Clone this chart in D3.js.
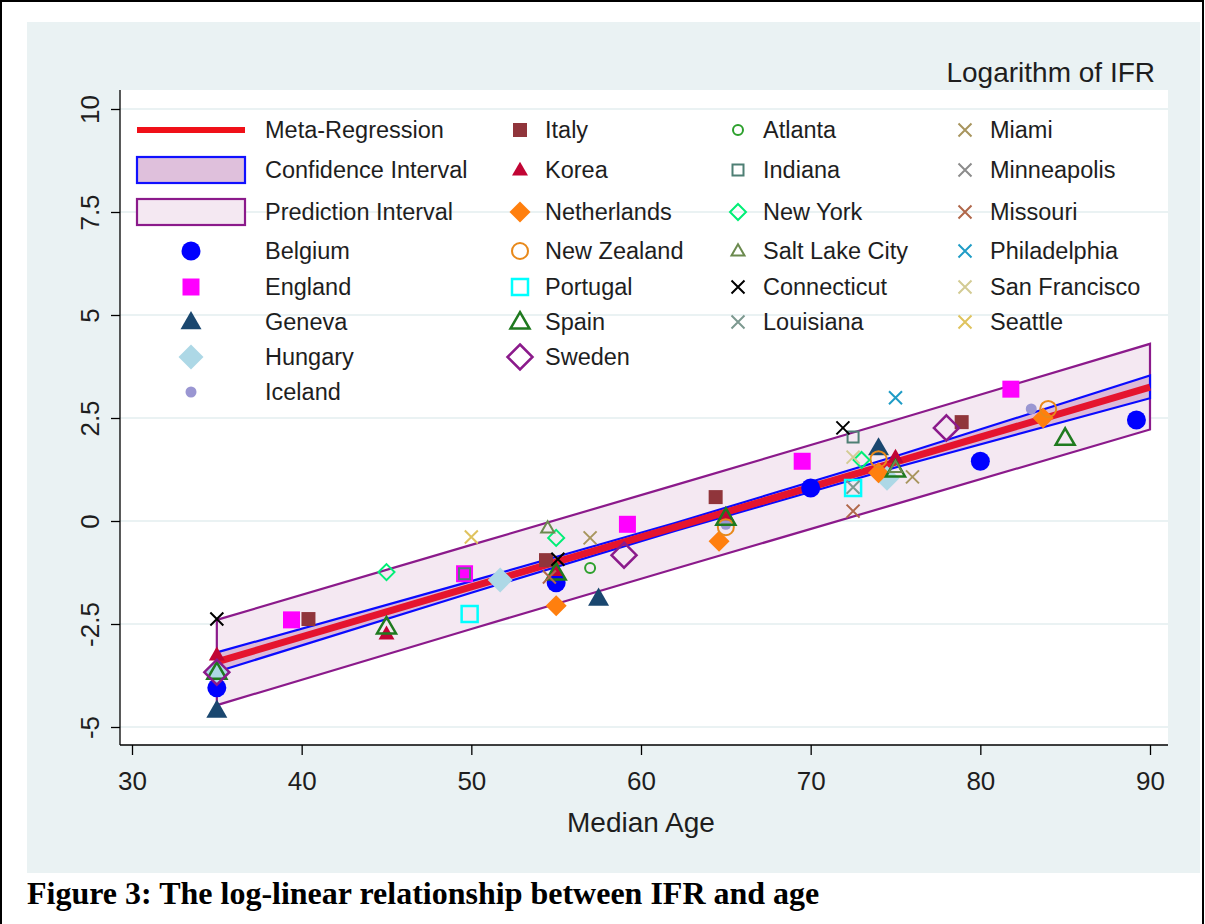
<!DOCTYPE html>
<html><head><meta charset="utf-8">
<script src="https://cdn.jsdelivr.net/npm/d3@7"></script>
<style>
html,body{margin:0;padding:0;background:#fff;}
svg{display:block;}
text{font-family:"Liberation Sans",Arial,sans-serif;fill:#1e1e1e;}
</style></head>
<body>
<svg id="chart" width="1205" height="924"></svg>
<script>
// ---------- data ----------
const xTicks = [30, 40, 50, 60, 70, 80, 90];
const yTicks = [-5, -2.5, 0, 2.5, 5, 7.5, 10];
const yTickLabels = ["-5", "-2.5", "0", "2.5", "5", "7.5", "10"];

const bandAge  = [35, 50, 62, 75, 90];
const fitValue = [-3.42, -1.60, -0.15, 1.43, 3.25];
const ciLower  = [-3.66, -1.74, -0.24, 1.30, 2.98];
const ciUpper  = [-3.19, -1.46, -0.05, 1.57, 3.53];
const piLower  = [-4.47, -2.62, -1.16, 0.41, 2.22];
const piUpper  = [-2.40, -0.58, 0.87, 2.45, 4.30];

const belgium      = [[35,-4.05],[55,-1.5],[70,0.8],[80,1.45],[89.2,2.45]];
const england      = [[39.4,-2.4],[49.6,-1.28],[59.2,-0.08],[69.5,1.45],[81.8,3.2]];
const geneva       = [[35,-4.6],[57.5,-1.88],[74,1.77]];
const hungary      = [[35,-3.65],[51.7,-1.43],[74.5,1.04]];
const iceland      = [[65,-0.08],[83,2.72]];
const italy        = [[40.4,-2.38],[54.4,-0.95],[64.4,0.58],[78.9,2.4]];
const korea        = [[35,-3.25],[45,-2.74],[55,-1.2],[65,0.15],[75,1.55]];
const netherlands  = [[55,-2.06],[64.6,-0.49],[74,1.17],[83.7,2.5]];
const newZealand   = [[65,-0.15],[74,1.5],[84,2.72]];
const portugal     = [[49.9,-2.26],[72.5,0.8]];
const spain        = [[35,-3.67],[45,-2.57],[55,-1.26],[65,0.07],[75,1.24],[85,2.01]];
const sweden       = [[35,-3.67],[59,-0.83],[78,2.26]];
const atlanta      = [[57,-1.14]];
const indiana      = [[49.6,-1.28],[72.5,2.04]];
const newYork      = [[45,-1.24],[55,-0.41],[73,1.48]];
const saltLakeCity = [[54.5,-0.17],[75,1.3]];
const connecticut  = [[35,-2.38],[55.1,-0.93],[71.9,2.26]];
const louisiana    = [[72.5,0.82]];
const miami        = [[57,-0.41],[76,1.07]];
const minneapolis  = [];
const missouri     = [[54.6,-1.36],[72.5,0.24]];
const philadelphia = [[75,2.99]];
const sanFrancisco = [[72.5,1.55]];
const seattle      = [[50,-0.39]];

const seriesNames = ["Belgium","England","Geneva","Hungary","Iceland","Italy","Korea","Netherlands",
  "New Zealand","Portugal","Spain","Sweden","Atlanta","Indiana","New York","Salt Lake City",
  "Connecticut","Louisiana","Miami","Minneapolis","Missouri","Philadelphia","San Francisco","Seattle"];
const seriesData = [belgium,england,geneva,hungary,iceland,italy,korea,netherlands,newZealand,
  portugal,spain,sweden,atlanta,indiana,newYork,saltLakeCity,connecticut,louisiana,miami,
  minneapolis,missouri,philadelphia,sanFrancisco,seattle];

// ---------- styles ----------
const styles = {
  "Belgium":       {shape:"circle",  fill:true,  color:"#0000ff", size:19},
  "England":       {shape:"square",  fill:true,  color:"#ff00ff", size:17},
  "Geneva":        {shape:"triangle",fill:true,  color:"#1a476f", size:21},
  "Hungary":       {shape:"diamond", fill:true,  color:"#add8e6", size:25},
  "Iceland":       {shape:"circle",  fill:true,  color:"#9a96d2", size:11},
  "Italy":         {shape:"square",  fill:true,  color:"#90353b", size:14},
  "Korea":         {shape:"triangle",fill:true,  color:"#c10534", size:16},
  "Netherlands":   {shape:"diamond", fill:true,  color:"#ff7f0e", size:21},
  "New Zealand":   {shape:"circle",  fill:false, color:"#e8891a", size:16, sw:2},
  "Portugal":      {shape:"square",  fill:false, color:"#00ffff", size:16, sw:2.5},
  "Spain":         {shape:"triangle",fill:false, color:"#1f7a1f", size:19, sw:2.5},
  "Sweden":        {shape:"diamond", fill:false, color:"#8b1a8b", size:25, sw:2.5},
  "Atlanta":       {shape:"circle",  fill:false, color:"#2ca02c", size:10, sw:2},
  "Indiana":       {shape:"square",  fill:false, color:"#4e7f74", size:11, sw:2},
  "New York":      {shape:"diamond", fill:false, color:"#00ee76", size:16, sw:2},
  "Salt Lake City":{shape:"triangle",fill:false, color:"#6b8a4e", size:13, sw:2},
  "Connecticut":   {shape:"x", color:"#000000", size:13, sw:2},
  "Louisiana":     {shape:"x", color:"#7d9990", size:13, sw:2},
  "Miami":         {shape:"x", color:"#a8955e", size:13, sw:2},
  "Minneapolis":   {shape:"x", color:"#8c8c8c", size:13, sw:2},
  "Missouri":      {shape:"x", color:"#b0674a", size:13, sw:2},
  "Philadelphia":  {shape:"x", color:"#1f9cc6", size:13, sw:2},
  "San Francisco": {shape:"x", color:"#d3cb94", size:13, sw:2},
  "Seattle":       {shape:"x", color:"#dfc35e", size:13, sw:2}
};

// ---------- layout ----------
const svg = d3.select("#chart");
const W = 1205, H = 924;
svg.append("rect").attr("x",0).attr("y",0).attr("width",W).attr("height",H).attr("fill","#fff");
svg.append("rect").attr("x",27).attr("y",22).attr("width",1173).attr("height",851).attr("fill","#eaf2f3");
svg.append("path").attr("d","M1,924 V1 H1203 V924").attr("fill","none").attr("stroke","#000").attr("stroke-width",2);

const plot = {l:120, r:1168, t:90, b:745};
svg.append("rect").attr("x",plot.l).attr("y",plot.t).attr("width",plot.r-plot.l).attr("height",plot.b-plot.t).attr("fill","#fff");

const x = d3.scaleLinear().domain([30,90]).range([132,1150]);
const y = d3.scaleLinear().domain([-5,10]).range([727,109]);

// gridlines
svg.append("g").selectAll("line").data(yTicks).join("line")
  .attr("x1",plot.l).attr("x2",plot.r)
  .attr("y1",d=>y(d)).attr("y2",d=>y(d))
  .attr("stroke","#eaf2f3").attr("stroke-width",2);

// axes
const yAxis = d3.axisLeft(y).tickValues(yTicks).tickSize(9).tickFormat((d,i)=>yTickLabels[i]).tickSizeOuter(0);
const gy = svg.append("g").attr("transform",`translate(${plot.l},0)`).call(yAxis);
gy.select(".domain").remove();
gy.selectAll(".tick line").attr("stroke","#000").attr("stroke-width",1.3);
gy.selectAll(".tick text")
  .attr("x",0).attr("y",0).attr("dy",0).attr("text-anchor","middle")
  .attr("transform","translate(-21,0) rotate(-90)")
  .style("font-size","26px").style("fill","#1e1e1e");
svg.append("line").attr("x1",plot.l).attr("x2",plot.l).attr("y1",plot.t).attr("y2",plot.b)
  .attr("stroke","#000").attr("stroke-width",1.3);

const xAxis = d3.axisBottom(x).tickValues(xTicks).tickSize(10).tickSizeOuter(0);
const gx = svg.append("g").attr("transform",`translate(0,${plot.b})`).call(xAxis);
gx.select(".domain").remove();
gx.selectAll(".tick line").attr("stroke","#000").attr("stroke-width",1.3);
gx.selectAll(".tick text").attr("y",45).attr("dy",0).style("font-size","26px").style("fill","#1e1e1e");
svg.append("line").attr("x1",plot.l).attr("x2",plot.r).attr("y1",plot.b).attr("y2",plot.b)
  .attr("stroke","#000").attr("stroke-width",1.3);

svg.append("text").attr("x",641).attr("y",832).attr("text-anchor","middle").style("font-size","28px").text("Median Age");
svg.append("text").attr("x",1155).attr("y",82).attr("text-anchor","end").style("font-size","28px").text("Logarithm of IFR");

// ---------- bands ----------
const idx = d3.range(bandAge.length);
const piArea = d3.area().x(i=>x(bandAge[i])).y0(i=>y(piLower[i])).y1(i=>y(piUpper[i]));
const ciArea = d3.area().x(i=>x(bandAge[i])).y0(i=>y(ciLower[i])).y1(i=>y(ciUpper[i]));
svg.append("path").attr("d",piArea(idx)+"Z").attr("fill","#f4e8f2").attr("stroke","#8b1a8b").attr("stroke-width",2.2);
svg.append("path").attr("d",ciArea(idx)+"Z").attr("fill","#dcbad8").attr("stroke","#0a0aff").attr("stroke-width",2.2);
const fitLine = d3.line().x(i=>x(bandAge[i])).y(i=>y(fitValue[i]));
svg.append("path").attr("d",fitLine(idx)).attr("fill","none").attr("stroke","#e5142e").attr("stroke-width",7);

// ---------- markers ----------
function markerPath(shape, s){
  const h = s/2;
  if(shape==="circle") return d3.symbol().type(d3.symbolCircle).size(Math.PI*h*h)();
  if(shape==="square") return `M${-h},${-h}H${h}V${h}H${-h}Z`;
  if(shape==="diamond") return `M0,${-h}L${h},0L0,${h}L${-h},0Z`;
  if(shape==="triangle"){const th=s*0.866;return `M0,${-th*0.6}L${h},${th*0.4}L${-h},${th*0.4}Z`;}
  if(shape==="x") return `M${-h},${-h}L${h},${h}M${h},${-h}L${-h},${h}`;
}
function drawMarker(g, st, cx, cy){
  const p = g.append("path").attr("d",markerPath(st.shape, st.size)).attr("transform",`translate(${cx},${cy})`);
  if(st.shape==="x"){p.attr("fill","none").attr("stroke",st.color).attr("stroke-width",st.sw);}
  else if(st.fill){p.attr("fill",st.color);}
  else {p.attr("fill","none").attr("stroke",st.color).attr("stroke-width",st.sw);}
}
const gm = svg.append("g");
seriesNames.forEach((name,k)=>{
  const st = styles[name];
  seriesData[k].forEach(d=>drawMarker(gm, st, x(d[0]), y(d[1])));
});

// ---------- legend ----------
const rowsY = [130,170,212,251,287,322,357,392];
const legendCols = [
  {kx:191, tx:265, names:["Belgium","England","Geneva","Hungary","Iceland"], start:3},
  {kx:520, tx:545, names:["Italy","Korea","Netherlands","New Zealand","Portugal","Spain","Sweden"], start:0},
  {kx:738, tx:763, names:["Atlanta","Indiana","New York","Salt Lake City","Connecticut","Louisiana"], start:0},
  {kx:965, tx:990, names:["Miami","Minneapolis","Missouri","Philadelphia","San Francisco","Seattle"], start:0}
];
const gl = svg.append("g");
gl.append("line").attr("x1",137).attr("x2",245).attr("y1",rowsY[0]).attr("y2",rowsY[0]).attr("stroke","#f01018").attr("stroke-width",6);
gl.append("rect").attr("x",137).attr("y",157).attr("width",108).attr("height",26).attr("fill","#dfc0dc").attr("stroke","#1010ff").attr("stroke-width",2.2);
gl.append("rect").attr("x",137).attr("y",199).attr("width",108).attr("height",26).attr("fill","#f4e8f2").attr("stroke","#8b1a8b").attr("stroke-width",2.2);
["Meta-Regression","Confidence Interval","Prediction Interval"].forEach((t,i)=>{
  gl.append("text").attr("x",265).attr("y",rowsY[i]).attr("dy","0.35em").style("font-size","23.5px").text(t);
});
legendCols.forEach(c=>{
  c.names.forEach((n,i)=>{
    const ry = rowsY[c.start+i];
    drawMarker(gl, styles[n], c.kx, ry);
    gl.append("text").attr("x",c.tx).attr("y",ry).attr("dy","0.35em").style("font-size","23.5px").text(n);
  });
});

// caption
svg.append("text").attr("x",27).attr("y",904)
  .style("font-family","'Liberation Serif','Times New Roman',serif").style("font-weight","bold").style("font-size","32px").style("fill","#000")
  .text("Figure 3: The log-linear relationship between IFR and age");
</script>
</body></html>
